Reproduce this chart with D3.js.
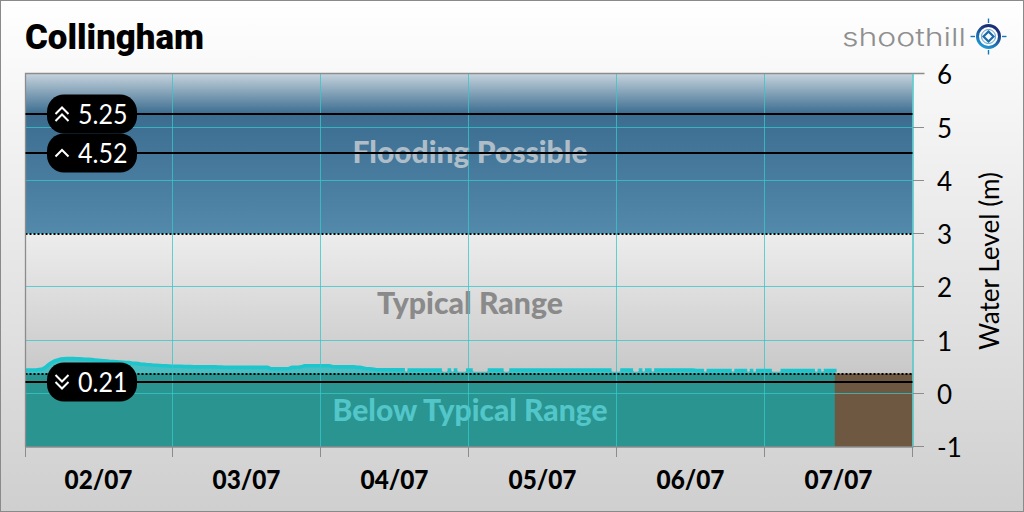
<!DOCTYPE html>
<html><head><meta charset="utf-8">
<script src="https://cdn.jsdelivr.net/npm/d3@7"></script>
<style>html,body{margin:0;padding:0;overflow:hidden}svg{display:block}</style>
</head><body><svg id="c" width="1024" height="512"></svg>
<script>
const title = "Collingham";
const brand = "shoothill";
const dayLabels = ["02/07","03/07","04/07","05/07","06/07","07/07"];
const yTicks = [-1,0,1,2,3,4,5,6];
const yTitle = "Water Level (m)";
const flagValues = [5.25,4.52,0.21];
const flagKinds = ["double-up","up","double-down"];
const floodFloor = 3;
const typicalFloor = 0.375;
const zoneNames = ["Flooding Possible","Typical Range","Below Typical Range"];
const sampleStartHour = -0.1;
const sampleStepHours = 0.5;
const gapLevel = 0.41;
const levels = [
.44,.44,.44,.44,.44,.45,.46,.49,.54,.58,
.61,.63,.645,.65,.655,.655,.655,.65,.65,.645,
.64,.64,.635,.63,.625,.62,.615,.61,.60,.60,
.595,.59,.585,.58,.58,.57,.565,.56,.55,.55,
.54,.54,.53,.53,.525,.52,.52,.515,.51,.51,
.51,.51,.505,.505,.505,.50,.50,.50,.50,.50,
.50,.50,.50,.495,.495,.49,.49,.49,.49,.49,
.49,.49,.49,.49,.49,.49,.49,.49,.49,.49,
.465,.465,.465,.465,.465,.465,.47,.49,.49,.49,
.50,.52,.52,.52,.52,.52,.52,.52,.52,.52,
.505,.50,.50,.50,.50,.50,.50,.50,.49,.49,
.48,.465,.465,.46,.45,.445,.445,.445,.445,.445,
.445,.445,.445,.445,.41,.44,.44,.44,.44,.44,
.44,.44,.44,.44,.44,.44,.41,.41,.44,.41,
.44,.41,.41,.41,.44,.44,.41,.41,.41,.41,
.41,.44,.44,.44,.44,.44,.41,.41,.44,.44,
.44,.44,.44,.44,.44,.44,.44,.44,.44,.44,
.44,.44,.44,.44,.44,.44,.44,.44,.44,.44,
.44,.44,.44,.44,.44,.44,.44,.44,.44,.44,
.44,.41,.41,.41,.44,.44,.44,.44,.41,.41,
.44,.41,.44,.44,.41,.44,.44,.44,.44,.44,
.44,.44,.44,.44,.44,.44,.44,.44,.43,.43,
.43,.41,.43,.43,.43,.43,.43,.43,.43,.43,
.41,.43,.43,.43,.43,.41,.43,.41,.43,.43,
.43,.43,.43,.41,.41,.41,.43,.43,.43,.43,
.43,.43,.43,.43,.43,.43,.43,.41,.43,.41,
.43,.43,.43,.43];

const W=1024,H=512,L=25.5,R=912.5,T=73.5,B=447;
const FONT="Lato, 'Noto Sans', sans-serif";
const svg=d3.select("#c"), defs=svg.append("defs");
const x=d3.scaleLinear().domain([0,144]).range([24.5,912.5]);
const y=d3.scaleLinear().domain([-1,6]).range([446.8,73.7]);
const dayHours=d3.range(0,145,24);
const snap=v=>Math.floor(v)+.5;

function grad(id,y1,y2,stops,x2){
  const g=defs.append("linearGradient").attr("id",id).attr("gradientUnits","userSpaceOnUse")
   .attr("x1",0).attr("x2",x2||0).attr("y1",y1).attr("y2",y2);
  stops.forEach(s=>g.append("stop").attr("offset",s[0]).attr("stop-color",s[1]));
}
grad("page",0,H,[[0,"#ffffff"],[1,"#cfcfcf"]]);
grad("flood",T,y(floodFloor),[[0,"#c6d3dd"],[(y(5.25)-T)/(y(floodFloor)-T),"#3c6d90"],[1,"#5389ab"]]);
grad("typical",y(floodFloor),y(typicalFloor),[[0,"#ededed"],[1,"#c8c8c8"]]);
defs.append("clipPath").attr("id","plot").append("rect").attr("x",L).attr("y",T).attr("width",R-L).attr("height",B-T);

svg.append("rect").attr("x",.5).attr("y",.5).attr("width",W-1).attr("height",H-1)
  .attr("fill","url(#page)").attr("stroke","#8a8a8a");

// zones
const zones=svg.append("g");
zones.append("rect").attr("x",L).attr("width",R-L).attr("y",T).attr("height",y(floodFloor)-T).attr("fill","url(#flood)");
zones.append("rect").attr("x",L).attr("width",R-L).attr("y",y(floodFloor)).attr("height",y(typicalFloor)-y(floodFloor)).attr("fill","url(#typical)");
zones.append("rect").attr("x",L).attr("width",R-L).attr("y",y(typicalFloor)).attr("height",B-y(typicalFloor)).attr("fill","#6f5842");

const zoneY=[153,304.5,411], zoneFill=["#aebdc8","#8a8a8a","#52c6c8"];
function fitted(sel,w){return sel.attr("textLength",w).attr("lengthAdjust","spacingAndGlyphs");}
const pts=levels.map((v,i)=>({h:sampleStartHour+i*sampleStepHours,v}));
const plot=svg.append("g").attr("clip-path","url(#plot)");
plot.append("path").datum(pts)
  .attr("d",d3.area().x(d=>x(d.h)).y0(y(-1)+1).y1(d=>y(d.v)))
  .attr("fill","rgb(3,183,189)").attr("fill-opacity",.64);
plot.append("path").datum(pts)
  .attr("d",d3.line().defined(d=>d.v>gapLevel).x(d=>x(d.h)).y(d=>y(d.v)))
  .attr("fill","none").attr("stroke","#1cc6cc").attr("stroke-width",3.6).attr("stroke-linecap","square");

zoneNames.forEach((n,i)=>{
  fitted(svg.append("text").attr("x",470).attr("y",zoneY[i]+9.5).attr("text-anchor","middle")
   .attr("font-family",FONT).attr("font-weight",900).attr("font-size",30).attr("fill",zoneFill[i]).text(n),[235,186,275][i]);
});

// grid
const gridColour="#36c6cb";
const grid=svg.append("g").attr("stroke-opacity",.78);
grid.selectAll(".v").data(dayHours.slice(1,-1)).join("line").attr("class","v").attr("x1",d=>snap(x(d))).attr("x2",d=>snap(x(d))).attr("y1",T).attr("y2",B).attr("stroke",gridColour).attr("stroke-width",1);
grid.selectAll(".h").data(yTicks.slice(1,-1)).join("line").attr("class","h").attr("x1",L).attr("x2",R).attr("y1",d=>snap(y(d))).attr("y2",d=>snap(y(d))).attr("stroke",gridColour).attr("stroke-width",1);

// dotted boundaries
svg.append("g").selectAll("line").data([floodFloor,typicalFloor]).join("line")
 .attr("x1",L).attr("x2",R).attr("y1",d=>Math.round(y(d))).attr("y2",d=>Math.round(y(d)))
 .attr("stroke","#000").attr("stroke-width",2).attr("stroke-dasharray","2 2");

// frame
const frame=svg.append("g").attr("stroke","#8c8c8c").attr("fill","none");
frame.append("path").attr("d",`M${L},${B}V${T}H${R+12}`).attr("stroke-width",1.3);
frame.append("line").attr("x1",L).attr("x2",R+1).attr("y1",B).attr("y2",B).attr("stroke-width",1.5);

// axes
const xAxis=d3.axisBottom(x).tickValues(dayHours).tickSize(10).tickFormat("").offset(0);
const gx=svg.append("g").attr("transform",`translate(0,${B})`).call(xAxis);
gx.select(".domain").remove(); gx.selectAll("line").attr("stroke","#8c8c8c").attr("stroke-width",1);
gx.selectAll(".tick").attr("transform",d=>`translate(${d===0?25.5:snap(x(d))},0)`);
const yAxis=d3.axisRight(y).tickValues(yTicks).tickSize(11).tickFormat(d=>d).offset(0);
const gy=svg.append("g").attr("transform",`translate(913,0)`).call(yAxis);
gy.select(".domain").attr("stroke","#4cc6ca").attr("stroke-width",1.5).attr("d",`M0,${T}V${B}`);
gy.selectAll("line").attr("stroke","#8c8c8c").attr("stroke-width",1);
gy.selectAll(".tick").attr("transform",d=>`translate(0,${snap(y(d))})`);
gy.selectAll("text").attr("x",24).attr("dy",".40em").attr("text-anchor","start")
  .attr("font-family",FONT).attr("font-size",26).attr("font-weight",400).attr("fill","#000");

svg.append("g").selectAll("text").data(dayLabels).join("text")
 .attr("x",(d,i)=>(x(dayHours[i])+x(dayHours[i+1]))/2).attr("y",489).attr("text-anchor","middle")
 .attr("font-family",FONT).attr("font-weight",900).attr("font-size",26).attr("fill","#000").text(d=>d)
 .attr("textLength",68).attr("lengthAdjust","spacingAndGlyphs");

svg.append("text").attr("transform","translate(999,261) rotate(-90)").attr("text-anchor","middle")
 .attr("font-family",FONT).attr("font-size",26).attr("fill","#000").attr("textLength",178).attr("lengthAdjust","spacingAndGlyphs").text(yTitle);

// threshold lines and flags
const flags=svg.append("g");
flagValues.forEach(v=>flags.append("line").attr("x1",L).attr("x2",R).attr("y1",Math.round(y(v))).attr("y2",Math.round(y(v))).attr("stroke","#000").attr("stroke-width",2));
flagValues.forEach((v,i)=>{
  const cy=Math.round(y(v)), g=flags.append("g");
  g.append("rect").attr("x",47).attr("y",cy-19.5).attr("width",90).attr("height",39).attr("rx",17).attr("fill","#000");
  fitted(g.append("text").attr("x",78).attr("y",cy+9.5).attr("font-family",FONT).attr("font-size",27).attr("fill","#fff").text(v.toFixed(2)),49.5);
  const kind=flagKinds[i], up=kind.includes("up"), dbl=kind.includes("double");
  const s=up?-1:1, offs=dbl?[-3.5,3.5]:[0];
  offs.forEach(o=>g.append("path").attr("d",`M55.5,${cy+o-s*3.5}L62,${cy+o+s*3}L68.5,${cy+o-s*3.5}`)
     .attr("fill","none").attr("stroke","#fff").attr("stroke-width",2));
});

// title
fitted(svg.append("text").attr("x",25).attr("y",49).attr("font-family","Roboto, "+FONT).attr("font-weight",900).attr("font-size",35).attr("fill","#000").text(title),179);

// brand
fitted(svg.append("text").attr("x",842).attr("y",46).attr("font-family","Inter, "+FONT).attr("font-weight",300).attr("font-size",24).attr("fill","#8f8f8f").text(brand),124);
const logo=svg.append("g").attr("transform","translate(988.5,36.5)").attr("fill","none");
grad("logoG",-9,9,[[0,"#1b2f78"],[1,"#1f9ad8"]],-9);
logo.append("circle").attr("r",11).attr("stroke","url(#logoG)").attr("stroke-width",3);
logo.append("circle").attr("r",7).attr("stroke","#5a9cc8").attr("stroke-width",1);
logo.append("path").attr("d","M0,-5L5,0L0,5L-5,0Z").attr("stroke","#1a6cab").attr("stroke-width",2.2);
logo.selectAll("line").data([[0,-18,0,-13.5],[0,13.5,0,18],[-18,0,-13.5,0],[13.5,0,18,0]]).join("line")
 .attr("x1",d=>d[0]).attr("y1",d=>d[1]).attr("x2",d=>d[2]).attr("y2",d=>d[3]).attr("stroke","#1478b8").attr("stroke-width",1.4);
</script></body></html>
